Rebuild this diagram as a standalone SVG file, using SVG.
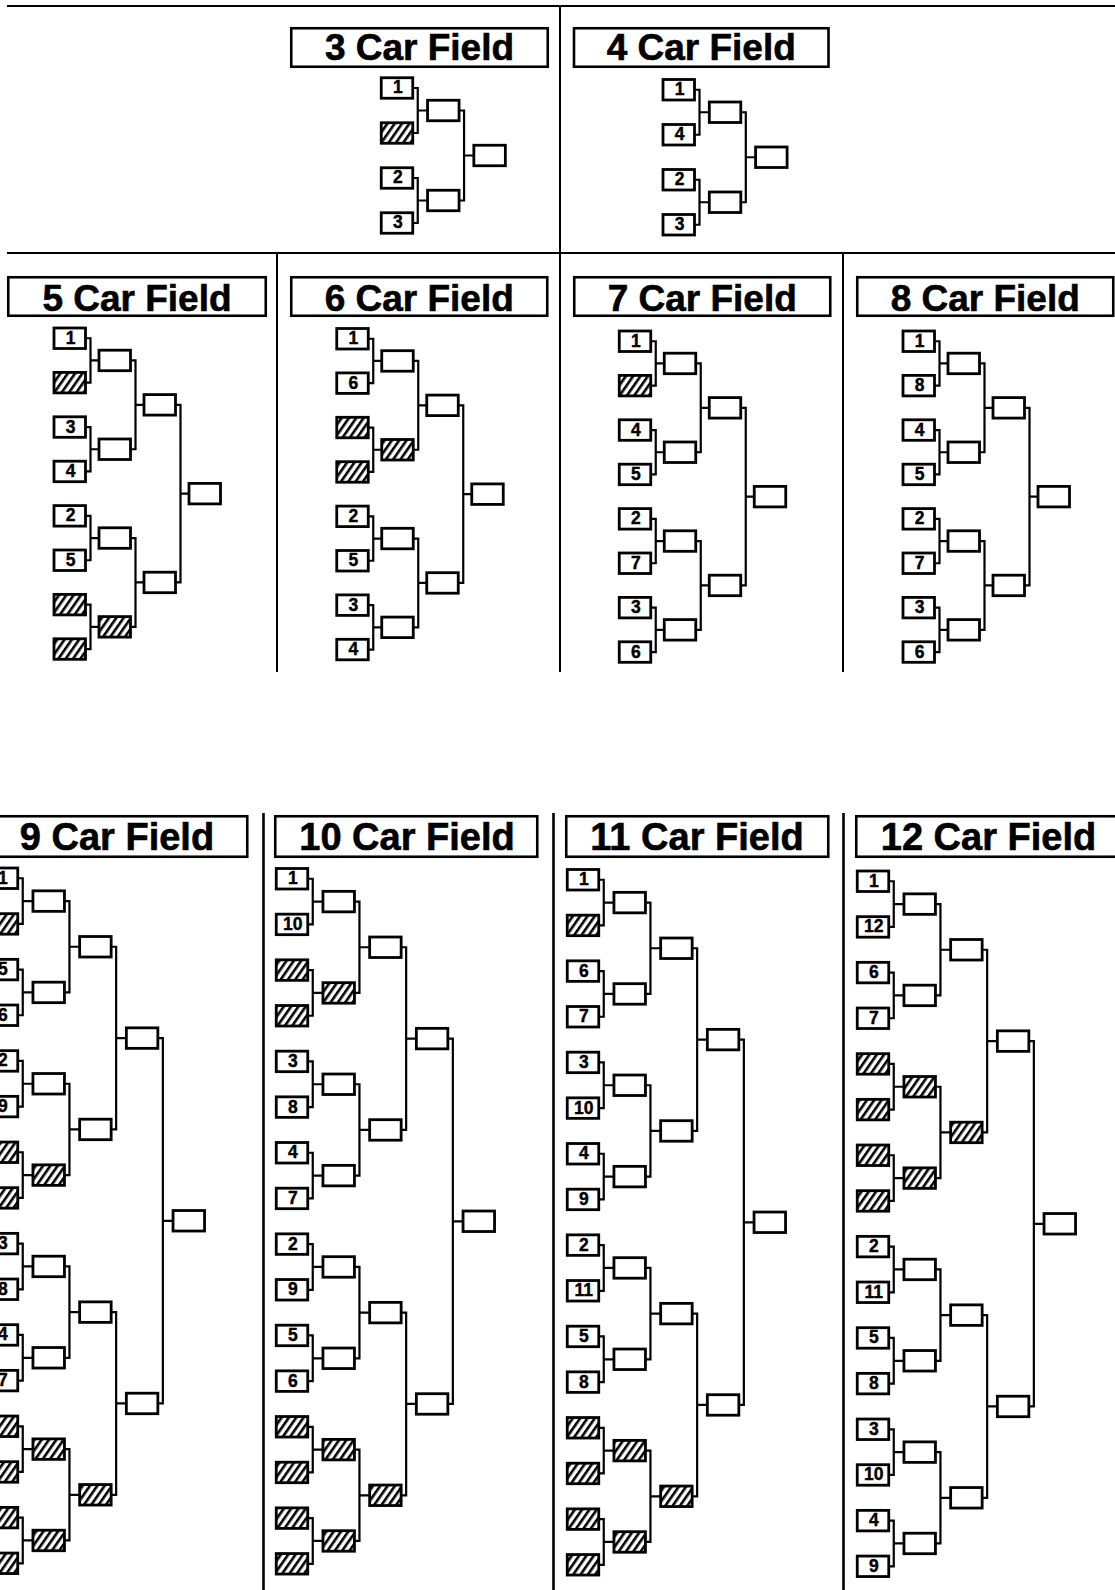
<svg xmlns="http://www.w3.org/2000/svg" xmlns:xlink="http://www.w3.org/1999/xlink" width="1115" height="1590" viewBox="0 0 1115 1590">
<style>
.b{fill:#fff;stroke:#000;stroke-width:2.8}
.h{fill:url(#hatch)}
.s{font-family:"Liberation Sans",Arial,sans-serif;font-weight:bold;font-size:17.5px;text-anchor:middle;fill:#000;stroke:#000;stroke-width:0.4}
.tb{fill:#fff;stroke:#000;stroke-width:2.6}
.tt{font-family:"Liberation Sans",Arial,sans-serif;font-weight:bold;font-size:37px;text-anchor:middle;fill:#000;stroke:#000;stroke-width:0.6}
.tt3{font-size:38px}
.c{fill:none;stroke:#000;stroke-width:2.2}
.fr{fill:none;stroke:#000;stroke-width:2}
.fr3{fill:none;stroke:#000;stroke-width:2.6}
</style>
<defs>
<pattern id="hatch" patternUnits="userSpaceOnUse" width="6" height="6" patternTransform="rotate(35)">
<rect width="6" height="6" fill="#fff"/><rect width="2.6" height="6" fill="#000"/>
</pattern>
<path id="c4" d="M31.5,10.25H36.5V55.25H31.5M36.5,32.75H46.3M31.5,100.25H36.5V145.25H31.5M36.5,122.75H46.3M77.8,32.75H82.8V122.75H77.8M82.8,77.75H92.6"/>
<path id="c8" d="M31.5,10.25H36.5V54.65H31.5M36.5,32.45H45M31.5,99.05H36.5V143.45H31.5M36.5,121.25H45M31.5,187.85H36.5V232.25H31.5M36.5,210.05H45M31.5,276.65H36.5V321.05H31.5M36.5,298.85H45M76.5,32.45H81.5V121.25H76.5M81.5,76.85H90M76.5,210.05H81.5V298.85H76.5M81.5,254.45H90M121.5,76.85H126.5V254.45H121.5M126.5,165.65H135"/>
<path id="c16" d="M31.5,10.25H36.5V55.92H31.5M36.5,33.09H46.7M31.5,101.59H36.5V147.26H31.5M36.5,124.43H46.7M31.5,192.93H36.5V238.6H31.5M36.5,215.77H46.7M31.5,284.27H36.5V329.94H31.5M36.5,307.11H46.7M31.5,375.61H36.5V421.28H31.5M36.5,398.45H46.7M31.5,466.95H36.5V512.62H31.5M36.5,489.79H46.7M31.5,558.29H36.5V603.96H31.5M36.5,581.13H46.7M31.5,649.63H36.5V695.3H31.5M36.5,672.47H46.7M78.2,33.09H83.2V124.43H78.2M83.2,78.76H93.4M78.2,215.77H83.2V307.11H78.2M83.2,261.44H93.4M78.2,398.45H83.2V489.79H78.2M83.2,444.12H93.4M78.2,581.13H83.2V672.47H78.2M83.2,626.8H93.4M124.9,78.76H129.9V261.44H124.9M129.9,170.1H140.1M124.9,444.12H129.9V626.8H124.9M129.9,535.46H140.1M171.6,170.1H176.6V535.46H171.6M176.6,352.78H186.8"/>
</defs>
<rect width="1115" height="1590" fill="#fff"/>

<g id="frame">
<path class="fr" d="M7,6H1115M560,6V253M7,253H1115M277,253V672M560,253V672M843,253V672"/>
<path class="fr3" d="M263.5,813V1590M553.5,813V1590M843.5,813V1590"/>
</g>

<g id="titles">
<g id="t3"><rect class="tb" x="291.25" y="28.25" width="256.5" height="38.5"/><text class="tt" x="419.5" y="60">3 Car Field</text></g>
<g id="t4"><rect class="tb" x="574" y="28.25" width="254.5" height="38.5"/><text class="tt" x="701.25" y="60">4 Car Field</text></g>
<g id="t5"><rect class="tb" x="8.25" y="277.25" width="257.5" height="38.5"/><text class="tt" x="137" y="310.5">5 Car Field</text></g>
<g id="t6"><rect class="tb" x="291.25" y="277.25" width="256" height="38.5"/><text class="tt" x="419.25" y="310.5">6 Car Field</text></g>
<g id="t7"><rect class="tb" x="574.25" y="277.25" width="256" height="38.5"/><text class="tt" x="702.25" y="310.5">7 Car Field</text></g>
<g id="t8"><rect class="tb" x="857.25" y="277.25" width="256" height="38.5"/><text class="tt" x="985.25" y="310.5">8 Car Field</text></g>
<g id="t9"><rect class="tb" x="-14.75" y="816.25" width="262" height="40.5"/><text class="tt tt3" x="117" y="850">9 Car Field</text></g>
<g id="t10"><rect class="tb" x="275.25" y="816.25" width="262" height="40.5"/><text class="tt tt3" x="407" y="850">10 Car Field</text></g>
<g id="t11"><rect class="tb" x="566.25" y="816.25" width="262" height="40.5"/><text class="tt tt3" x="697" y="850">11 Car Field</text></g>
<g id="t12"><rect class="tb" x="856.25" y="816.25" width="262" height="40.5"/><text class="tt tt3" x="988.5" y="850">12 Car Field</text></g>
</g>

<g id="connectors" class="c">
<use xlink:href="#c4" href="#c4" transform="translate(381.25,77.75)"/>
<use xlink:href="#c4" href="#c4" transform="translate(663,79.5)"/>
<use xlink:href="#c8" href="#c8" transform="translate(54,328)"/>
<use xlink:href="#c8" href="#c8" transform="translate(336.75,328.5)"/>
<use xlink:href="#c8" href="#c8" transform="translate(619.25,331)"/>
<use xlink:href="#c8" href="#c8" transform="translate(903,331)"/>
<use xlink:href="#c16" href="#c16" transform="translate(-13.75,868)"/>
<use xlink:href="#c16" href="#c16" transform="translate(276.25,868.5)"/>
<use xlink:href="#c16" href="#c16" transform="translate(567.25,869.5)"/>
<use xlink:href="#c16" href="#c16" transform="translate(857.25,871)"/>
</g>

<g id="field3" transform="translate(381.25,77.75)">
<g id="f3-s1"><rect class="b" y="0" width="31.5" height="20.5"/><text class="s" x="16.5" y="15.7">1</text></g>
<g id="f3-s2"><rect class="b h" y="45" width="31.5" height="20.5"/></g>
<g id="f3-s3"><rect class="b" y="90" width="31.5" height="20.5"/><text class="s" x="16.5" y="105.7">2</text></g>
<g id="f3-s4"><rect class="b" y="135" width="31.5" height="20.5"/><text class="s" x="16.5" y="150.7">3</text></g>
<g id="f3-r1a"><rect class="b" x="46.3" y="22.5" width="31.5" height="20.5"/></g>
<g id="f3-r1b"><rect class="b" x="46.3" y="112.5" width="31.5" height="20.5"/></g>
<g id="f3-fin"><rect class="b" x="92.6" y="67.5" width="31.5" height="20.5"/></g>
</g>

<g id="field4" transform="translate(663,79.5)">
<g id="f4-s1"><rect class="b" y="0" width="31.5" height="20.5"/><text class="s" x="16.5" y="15.7">1</text></g>
<g id="f4-s2"><rect class="b" y="45" width="31.5" height="20.5"/><text class="s" x="16.5" y="60.7">4</text></g>
<g id="f4-s3"><rect class="b" y="90" width="31.5" height="20.5"/><text class="s" x="16.5" y="105.7">2</text></g>
<g id="f4-s4"><rect class="b" y="135" width="31.5" height="20.5"/><text class="s" x="16.5" y="150.7">3</text></g>
<g id="f4-r1a"><rect class="b" x="46.3" y="22.5" width="31.5" height="20.5"/></g>
<g id="f4-r1b"><rect class="b" x="46.3" y="112.5" width="31.5" height="20.5"/></g>
<g id="f4-fin"><rect class="b" x="92.6" y="67.5" width="31.5" height="20.5"/></g>
</g>

<g id="field5" transform="translate(54,328)">
<g id="f5-s1"><rect class="b" y="0" width="31.5" height="20.5"/><text class="s" x="16.5" y="15.7">1</text></g>
<g id="f5-s2"><rect class="b h" y="44.4" width="31.5" height="20.5"/></g>
<g id="f5-s3"><rect class="b" y="88.8" width="31.5" height="20.5"/><text class="s" x="16.5" y="104.5">3</text></g>
<g id="f5-s4"><rect class="b" y="133.2" width="31.5" height="20.5"/><text class="s" x="16.5" y="148.9">4</text></g>
<g id="f5-s5"><rect class="b" y="177.6" width="31.5" height="20.5"/><text class="s" x="16.5" y="193.3">2</text></g>
<g id="f5-s6"><rect class="b" y="222" width="31.5" height="20.5"/><text class="s" x="16.5" y="237.7">5</text></g>
<g id="f5-s7"><rect class="b h" y="266.4" width="31.5" height="20.5"/></g>
<g id="f5-s8"><rect class="b h" y="310.8" width="31.5" height="20.5"/></g>
<g id="f5-r1a"><rect class="b" x="45" y="22.2" width="31.5" height="20.5"/></g>
<g id="f5-r1b"><rect class="b" x="45" y="111" width="31.5" height="20.5"/></g>
<g id="f5-r1c"><rect class="b" x="45" y="199.8" width="31.5" height="20.5"/></g>
<g id="f5-r1d"><rect class="b h" x="45" y="288.6" width="31.5" height="20.5"/></g>
<g id="f5-r2a"><rect class="b" x="90" y="66.6" width="31.5" height="20.5"/></g>
<g id="f5-r2b"><rect class="b" x="90" y="244.2" width="31.5" height="20.5"/></g>
<g id="f5-fin"><rect class="b" x="135" y="155.4" width="31.5" height="20.5"/></g>
</g>

<g id="field6" transform="translate(336.75,328.5)">
<g id="f6-s1"><rect class="b" y="0" width="31.5" height="20.5"/><text class="s" x="16.5" y="15.7">1</text></g>
<g id="f6-s2"><rect class="b" y="44.4" width="31.5" height="20.5"/><text class="s" x="16.5" y="60.1">6</text></g>
<g id="f6-s3"><rect class="b h" y="88.8" width="31.5" height="20.5"/></g>
<g id="f6-s4"><rect class="b h" y="133.2" width="31.5" height="20.5"/></g>
<g id="f6-s5"><rect class="b" y="177.6" width="31.5" height="20.5"/><text class="s" x="16.5" y="193.3">2</text></g>
<g id="f6-s6"><rect class="b" y="222" width="31.5" height="20.5"/><text class="s" x="16.5" y="237.7">5</text></g>
<g id="f6-s7"><rect class="b" y="266.4" width="31.5" height="20.5"/><text class="s" x="16.5" y="282.1">3</text></g>
<g id="f6-s8"><rect class="b" y="310.8" width="31.5" height="20.5"/><text class="s" x="16.5" y="326.5">4</text></g>
<g id="f6-r1a"><rect class="b" x="45" y="22.2" width="31.5" height="20.5"/></g>
<g id="f6-r1b"><rect class="b h" x="45" y="111" width="31.5" height="20.5"/></g>
<g id="f6-r1c"><rect class="b" x="45" y="199.8" width="31.5" height="20.5"/></g>
<g id="f6-r1d"><rect class="b" x="45" y="288.6" width="31.5" height="20.5"/></g>
<g id="f6-r2a"><rect class="b" x="90" y="66.6" width="31.5" height="20.5"/></g>
<g id="f6-r2b"><rect class="b" x="90" y="244.2" width="31.5" height="20.5"/></g>
<g id="f6-fin"><rect class="b" x="135" y="155.4" width="31.5" height="20.5"/></g>
</g>

<g id="field7" transform="translate(619.25,331)">
<g id="f7-s1"><rect class="b" y="0" width="31.5" height="20.5"/><text class="s" x="16.5" y="15.7">1</text></g>
<g id="f7-s2"><rect class="b h" y="44.4" width="31.5" height="20.5"/></g>
<g id="f7-s3"><rect class="b" y="88.8" width="31.5" height="20.5"/><text class="s" x="16.5" y="104.5">4</text></g>
<g id="f7-s4"><rect class="b" y="133.2" width="31.5" height="20.5"/><text class="s" x="16.5" y="148.9">5</text></g>
<g id="f7-s5"><rect class="b" y="177.6" width="31.5" height="20.5"/><text class="s" x="16.5" y="193.3">2</text></g>
<g id="f7-s6"><rect class="b" y="222" width="31.5" height="20.5"/><text class="s" x="16.5" y="237.7">7</text></g>
<g id="f7-s7"><rect class="b" y="266.4" width="31.5" height="20.5"/><text class="s" x="16.5" y="282.1">3</text></g>
<g id="f7-s8"><rect class="b" y="310.8" width="31.5" height="20.5"/><text class="s" x="16.5" y="326.5">6</text></g>
<g id="f7-r1a"><rect class="b" x="45" y="22.2" width="31.5" height="20.5"/></g>
<g id="f7-r1b"><rect class="b" x="45" y="111" width="31.5" height="20.5"/></g>
<g id="f7-r1c"><rect class="b" x="45" y="199.8" width="31.5" height="20.5"/></g>
<g id="f7-r1d"><rect class="b" x="45" y="288.6" width="31.5" height="20.5"/></g>
<g id="f7-r2a"><rect class="b" x="90" y="66.6" width="31.5" height="20.5"/></g>
<g id="f7-r2b"><rect class="b" x="90" y="244.2" width="31.5" height="20.5"/></g>
<g id="f7-fin"><rect class="b" x="135" y="155.4" width="31.5" height="20.5"/></g>
</g>

<g id="field8" transform="translate(903,331)">
<g id="f8-s1"><rect class="b" y="0" width="31.5" height="20.5"/><text class="s" x="16.5" y="15.7">1</text></g>
<g id="f8-s2"><rect class="b" y="44.4" width="31.5" height="20.5"/><text class="s" x="16.5" y="60.1">8</text></g>
<g id="f8-s3"><rect class="b" y="88.8" width="31.5" height="20.5"/><text class="s" x="16.5" y="104.5">4</text></g>
<g id="f8-s4"><rect class="b" y="133.2" width="31.5" height="20.5"/><text class="s" x="16.5" y="148.9">5</text></g>
<g id="f8-s5"><rect class="b" y="177.6" width="31.5" height="20.5"/><text class="s" x="16.5" y="193.3">2</text></g>
<g id="f8-s6"><rect class="b" y="222" width="31.5" height="20.5"/><text class="s" x="16.5" y="237.7">7</text></g>
<g id="f8-s7"><rect class="b" y="266.4" width="31.5" height="20.5"/><text class="s" x="16.5" y="282.1">3</text></g>
<g id="f8-s8"><rect class="b" y="310.8" width="31.5" height="20.5"/><text class="s" x="16.5" y="326.5">6</text></g>
<g id="f8-r1a"><rect class="b" x="45" y="22.2" width="31.5" height="20.5"/></g>
<g id="f8-r1b"><rect class="b" x="45" y="111" width="31.5" height="20.5"/></g>
<g id="f8-r1c"><rect class="b" x="45" y="199.8" width="31.5" height="20.5"/></g>
<g id="f8-r1d"><rect class="b" x="45" y="288.6" width="31.5" height="20.5"/></g>
<g id="f8-r2a"><rect class="b" x="90" y="66.6" width="31.5" height="20.5"/></g>
<g id="f8-r2b"><rect class="b" x="90" y="244.2" width="31.5" height="20.5"/></g>
<g id="f8-fin"><rect class="b" x="135" y="155.4" width="31.5" height="20.5"/></g>
</g>

<g id="field9" transform="translate(-13.75,868)">
<g id="f9-s1"><rect class="b" y="0" width="31.5" height="20.5"/><text class="s" x="16.5" y="15.7">1</text></g>
<g id="f9-s2"><rect class="b h" y="45.67" width="31.5" height="20.5"/></g>
<g id="f9-s3"><rect class="b" y="91.34" width="31.5" height="20.5"/><text class="s" x="16.5" y="107.04">5</text></g>
<g id="f9-s4"><rect class="b" y="137.01" width="31.5" height="20.5"/><text class="s" x="16.5" y="152.71">6</text></g>
<g id="f9-s5"><rect class="b" y="182.68" width="31.5" height="20.5"/><text class="s" x="16.5" y="198.38">2</text></g>
<g id="f9-s6"><rect class="b" y="228.35" width="31.5" height="20.5"/><text class="s" x="16.5" y="244.05">9</text></g>
<g id="f9-s7"><rect class="b h" y="274.02" width="31.5" height="20.5"/></g>
<g id="f9-s8"><rect class="b h" y="319.69" width="31.5" height="20.5"/></g>
<g id="f9-s9"><rect class="b" y="365.36" width="31.5" height="20.5"/><text class="s" x="16.5" y="381.06">3</text></g>
<g id="f9-s10"><rect class="b" y="411.03" width="31.5" height="20.5"/><text class="s" x="16.5" y="426.73">8</text></g>
<g id="f9-s11"><rect class="b" y="456.7" width="31.5" height="20.5"/><text class="s" x="16.5" y="472.4">4</text></g>
<g id="f9-s12"><rect class="b" y="502.37" width="31.5" height="20.5"/><text class="s" x="16.5" y="518.07">7</text></g>
<g id="f9-s13"><rect class="b h" y="548.04" width="31.5" height="20.5"/></g>
<g id="f9-s14"><rect class="b h" y="593.71" width="31.5" height="20.5"/></g>
<g id="f9-s15"><rect class="b h" y="639.38" width="31.5" height="20.5"/></g>
<g id="f9-s16"><rect class="b h" y="685.05" width="31.5" height="20.5"/></g>
<g id="f9-r1a"><rect class="b" x="46.7" y="22.84" width="31.5" height="20.5"/></g>
<g id="f9-r1b"><rect class="b" x="46.7" y="114.18" width="31.5" height="20.5"/></g>
<g id="f9-r1c"><rect class="b" x="46.7" y="205.52" width="31.5" height="20.5"/></g>
<g id="f9-r1d"><rect class="b h" x="46.7" y="296.86" width="31.5" height="20.5"/></g>
<g id="f9-r1e"><rect class="b" x="46.7" y="388.2" width="31.5" height="20.5"/></g>
<g id="f9-r1f"><rect class="b" x="46.7" y="479.54" width="31.5" height="20.5"/></g>
<g id="f9-r1g"><rect class="b h" x="46.7" y="570.88" width="31.5" height="20.5"/></g>
<g id="f9-r1h"><rect class="b h" x="46.7" y="662.22" width="31.5" height="20.5"/></g>
<g id="f9-r2a"><rect class="b" x="93.4" y="68.51" width="31.5" height="20.5"/></g>
<g id="f9-r2b"><rect class="b" x="93.4" y="251.19" width="31.5" height="20.5"/></g>
<g id="f9-r2c"><rect class="b" x="93.4" y="433.87" width="31.5" height="20.5"/></g>
<g id="f9-r2d"><rect class="b h" x="93.4" y="616.55" width="31.5" height="20.5"/></g>
<g id="f9-r3a"><rect class="b" x="140.1" y="159.85" width="31.5" height="20.5"/></g>
<g id="f9-r3b"><rect class="b" x="140.1" y="525.21" width="31.5" height="20.5"/></g>
<g id="f9-fin"><rect class="b" x="186.8" y="342.53" width="31.5" height="20.5"/></g>
</g>

<g id="field10" transform="translate(276.25,868.5)">
<g id="f10-s1"><rect class="b" y="0" width="31.5" height="20.5"/><text class="s" x="16.5" y="15.7">1</text></g>
<g id="f10-s2"><rect class="b" y="45.67" width="31.5" height="20.5"/><text class="s" x="16.5" y="61.37">10</text></g>
<g id="f10-s3"><rect class="b h" y="91.34" width="31.5" height="20.5"/></g>
<g id="f10-s4"><rect class="b h" y="137.01" width="31.5" height="20.5"/></g>
<g id="f10-s5"><rect class="b" y="182.68" width="31.5" height="20.5"/><text class="s" x="16.5" y="198.38">3</text></g>
<g id="f10-s6"><rect class="b" y="228.35" width="31.5" height="20.5"/><text class="s" x="16.5" y="244.05">8</text></g>
<g id="f10-s7"><rect class="b" y="274.02" width="31.5" height="20.5"/><text class="s" x="16.5" y="289.72">4</text></g>
<g id="f10-s8"><rect class="b" y="319.69" width="31.5" height="20.5"/><text class="s" x="16.5" y="335.39">7</text></g>
<g id="f10-s9"><rect class="b" y="365.36" width="31.5" height="20.5"/><text class="s" x="16.5" y="381.06">2</text></g>
<g id="f10-s10"><rect class="b" y="411.03" width="31.5" height="20.5"/><text class="s" x="16.5" y="426.73">9</text></g>
<g id="f10-s11"><rect class="b" y="456.7" width="31.5" height="20.5"/><text class="s" x="16.5" y="472.4">5</text></g>
<g id="f10-s12"><rect class="b" y="502.37" width="31.5" height="20.5"/><text class="s" x="16.5" y="518.07">6</text></g>
<g id="f10-s13"><rect class="b h" y="548.04" width="31.5" height="20.5"/></g>
<g id="f10-s14"><rect class="b h" y="593.71" width="31.5" height="20.5"/></g>
<g id="f10-s15"><rect class="b h" y="639.38" width="31.5" height="20.5"/></g>
<g id="f10-s16"><rect class="b h" y="685.05" width="31.5" height="20.5"/></g>
<g id="f10-r1a"><rect class="b" x="46.7" y="22.84" width="31.5" height="20.5"/></g>
<g id="f10-r1b"><rect class="b h" x="46.7" y="114.18" width="31.5" height="20.5"/></g>
<g id="f10-r1c"><rect class="b" x="46.7" y="205.52" width="31.5" height="20.5"/></g>
<g id="f10-r1d"><rect class="b" x="46.7" y="296.86" width="31.5" height="20.5"/></g>
<g id="f10-r1e"><rect class="b" x="46.7" y="388.2" width="31.5" height="20.5"/></g>
<g id="f10-r1f"><rect class="b" x="46.7" y="479.54" width="31.5" height="20.5"/></g>
<g id="f10-r1g"><rect class="b h" x="46.7" y="570.88" width="31.5" height="20.5"/></g>
<g id="f10-r1h"><rect class="b h" x="46.7" y="662.22" width="31.5" height="20.5"/></g>
<g id="f10-r2a"><rect class="b" x="93.4" y="68.51" width="31.5" height="20.5"/></g>
<g id="f10-r2b"><rect class="b" x="93.4" y="251.19" width="31.5" height="20.5"/></g>
<g id="f10-r2c"><rect class="b" x="93.4" y="433.87" width="31.5" height="20.5"/></g>
<g id="f10-r2d"><rect class="b h" x="93.4" y="616.55" width="31.5" height="20.5"/></g>
<g id="f10-r3a"><rect class="b" x="140.1" y="159.85" width="31.5" height="20.5"/></g>
<g id="f10-r3b"><rect class="b" x="140.1" y="525.21" width="31.5" height="20.5"/></g>
<g id="f10-fin"><rect class="b" x="186.8" y="342.53" width="31.5" height="20.5"/></g>
</g>

<g id="field11" transform="translate(567.25,869.5)">
<g id="f11-s1"><rect class="b" y="0" width="31.5" height="20.5"/><text class="s" x="16.5" y="15.7">1</text></g>
<g id="f11-s2"><rect class="b h" y="45.67" width="31.5" height="20.5"/></g>
<g id="f11-s3"><rect class="b" y="91.34" width="31.5" height="20.5"/><text class="s" x="16.5" y="107.04">6</text></g>
<g id="f11-s4"><rect class="b" y="137.01" width="31.5" height="20.5"/><text class="s" x="16.5" y="152.71">7</text></g>
<g id="f11-s5"><rect class="b" y="182.68" width="31.5" height="20.5"/><text class="s" x="16.5" y="198.38">3</text></g>
<g id="f11-s6"><rect class="b" y="228.35" width="31.5" height="20.5"/><text class="s" x="16.5" y="244.05">10</text></g>
<g id="f11-s7"><rect class="b" y="274.02" width="31.5" height="20.5"/><text class="s" x="16.5" y="289.72">4</text></g>
<g id="f11-s8"><rect class="b" y="319.69" width="31.5" height="20.5"/><text class="s" x="16.5" y="335.39">9</text></g>
<g id="f11-s9"><rect class="b" y="365.36" width="31.5" height="20.5"/><text class="s" x="16.5" y="381.06">2</text></g>
<g id="f11-s10"><rect class="b" y="411.03" width="31.5" height="20.5"/><text class="s" x="16.5" y="426.73">11</text></g>
<g id="f11-s11"><rect class="b" y="456.7" width="31.5" height="20.5"/><text class="s" x="16.5" y="472.4">5</text></g>
<g id="f11-s12"><rect class="b" y="502.37" width="31.5" height="20.5"/><text class="s" x="16.5" y="518.07">8</text></g>
<g id="f11-s13"><rect class="b h" y="548.04" width="31.5" height="20.5"/></g>
<g id="f11-s14"><rect class="b h" y="593.71" width="31.5" height="20.5"/></g>
<g id="f11-s15"><rect class="b h" y="639.38" width="31.5" height="20.5"/></g>
<g id="f11-s16"><rect class="b h" y="685.05" width="31.5" height="20.5"/></g>
<g id="f11-r1a"><rect class="b" x="46.7" y="22.84" width="31.5" height="20.5"/></g>
<g id="f11-r1b"><rect class="b" x="46.7" y="114.18" width="31.5" height="20.5"/></g>
<g id="f11-r1c"><rect class="b" x="46.7" y="205.52" width="31.5" height="20.5"/></g>
<g id="f11-r1d"><rect class="b" x="46.7" y="296.86" width="31.5" height="20.5"/></g>
<g id="f11-r1e"><rect class="b" x="46.7" y="388.2" width="31.5" height="20.5"/></g>
<g id="f11-r1f"><rect class="b" x="46.7" y="479.54" width="31.5" height="20.5"/></g>
<g id="f11-r1g"><rect class="b h" x="46.7" y="570.88" width="31.5" height="20.5"/></g>
<g id="f11-r1h"><rect class="b h" x="46.7" y="662.22" width="31.5" height="20.5"/></g>
<g id="f11-r2a"><rect class="b" x="93.4" y="68.51" width="31.5" height="20.5"/></g>
<g id="f11-r2b"><rect class="b" x="93.4" y="251.19" width="31.5" height="20.5"/></g>
<g id="f11-r2c"><rect class="b" x="93.4" y="433.87" width="31.5" height="20.5"/></g>
<g id="f11-r2d"><rect class="b h" x="93.4" y="616.55" width="31.5" height="20.5"/></g>
<g id="f11-r3a"><rect class="b" x="140.1" y="159.85" width="31.5" height="20.5"/></g>
<g id="f11-r3b"><rect class="b" x="140.1" y="525.21" width="31.5" height="20.5"/></g>
<g id="f11-fin"><rect class="b" x="186.8" y="342.53" width="31.5" height="20.5"/></g>
</g>

<g id="field12" transform="translate(857.25,871)">
<g id="f12-s1"><rect class="b" y="0" width="31.5" height="20.5"/><text class="s" x="16.5" y="15.7">1</text></g>
<g id="f12-s2"><rect class="b" y="45.67" width="31.5" height="20.5"/><text class="s" x="16.5" y="61.37">12</text></g>
<g id="f12-s3"><rect class="b" y="91.34" width="31.5" height="20.5"/><text class="s" x="16.5" y="107.04">6</text></g>
<g id="f12-s4"><rect class="b" y="137.01" width="31.5" height="20.5"/><text class="s" x="16.5" y="152.71">7</text></g>
<g id="f12-s5"><rect class="b h" y="182.68" width="31.5" height="20.5"/></g>
<g id="f12-s6"><rect class="b h" y="228.35" width="31.5" height="20.5"/></g>
<g id="f12-s7"><rect class="b h" y="274.02" width="31.5" height="20.5"/></g>
<g id="f12-s8"><rect class="b h" y="319.69" width="31.5" height="20.5"/></g>
<g id="f12-s9"><rect class="b" y="365.36" width="31.5" height="20.5"/><text class="s" x="16.5" y="381.06">2</text></g>
<g id="f12-s10"><rect class="b" y="411.03" width="31.5" height="20.5"/><text class="s" x="16.5" y="426.73">11</text></g>
<g id="f12-s11"><rect class="b" y="456.7" width="31.5" height="20.5"/><text class="s" x="16.5" y="472.4">5</text></g>
<g id="f12-s12"><rect class="b" y="502.37" width="31.5" height="20.5"/><text class="s" x="16.5" y="518.07">8</text></g>
<g id="f12-s13"><rect class="b" y="548.04" width="31.5" height="20.5"/><text class="s" x="16.5" y="563.74">3</text></g>
<g id="f12-s14"><rect class="b" y="593.71" width="31.5" height="20.5"/><text class="s" x="16.5" y="609.41">10</text></g>
<g id="f12-s15"><rect class="b" y="639.38" width="31.5" height="20.5"/><text class="s" x="16.5" y="655.08">4</text></g>
<g id="f12-s16"><rect class="b" y="685.05" width="31.5" height="20.5"/><text class="s" x="16.5" y="700.75">9</text></g>
<g id="f12-r1a"><rect class="b" x="46.7" y="22.84" width="31.5" height="20.5"/></g>
<g id="f12-r1b"><rect class="b" x="46.7" y="114.18" width="31.5" height="20.5"/></g>
<g id="f12-r1c"><rect class="b h" x="46.7" y="205.52" width="31.5" height="20.5"/></g>
<g id="f12-r1d"><rect class="b h" x="46.7" y="296.86" width="31.5" height="20.5"/></g>
<g id="f12-r1e"><rect class="b" x="46.7" y="388.2" width="31.5" height="20.5"/></g>
<g id="f12-r1f"><rect class="b" x="46.7" y="479.54" width="31.5" height="20.5"/></g>
<g id="f12-r1g"><rect class="b" x="46.7" y="570.88" width="31.5" height="20.5"/></g>
<g id="f12-r1h"><rect class="b" x="46.7" y="662.22" width="31.5" height="20.5"/></g>
<g id="f12-r2a"><rect class="b" x="93.4" y="68.51" width="31.5" height="20.5"/></g>
<g id="f12-r2b"><rect class="b h" x="93.4" y="251.19" width="31.5" height="20.5"/></g>
<g id="f12-r2c"><rect class="b" x="93.4" y="433.87" width="31.5" height="20.5"/></g>
<g id="f12-r2d"><rect class="b" x="93.4" y="616.55" width="31.5" height="20.5"/></g>
<g id="f12-r3a"><rect class="b" x="140.1" y="159.85" width="31.5" height="20.5"/></g>
<g id="f12-r3b"><rect class="b" x="140.1" y="525.21" width="31.5" height="20.5"/></g>
<g id="f12-fin"><rect class="b" x="186.8" y="342.53" width="31.5" height="20.5"/></g>
</g>
</svg>
